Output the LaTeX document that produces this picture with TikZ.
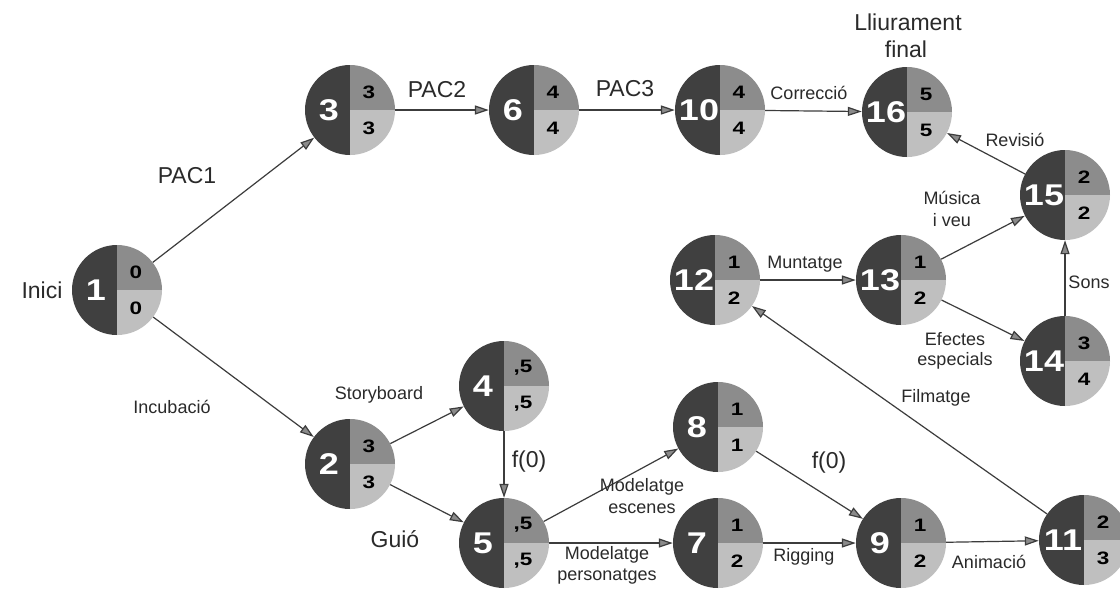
\documentclass[tikz,border=0pt]{standalone}
\usepackage{fontspec}
\usepackage{graphicx}
\setmainfont{Liberation Sans}
\usetikzlibrary{arrows.meta}
\definecolor{dk}{HTML}{404040}
\definecolor{md}{HTML}{8C8C8C}
\definecolor{lt}{HTML}{BFBFBF}
\definecolor{ln}{HTML}{3C3C3C}
\definecolor{tipfill}{HTML}{8A8A8A}
\definecolor{txt}{HTML}{2A2A2A}
\newcommand\evnode[6]{%
  \node[evcirc] (#1) at (#2pt,#3pt) {};
  \fill[dk] (#1.center) -- ++(0pt,45pt) arc[start angle=90,end angle=270,radius=45pt] -- cycle;
  \fill[md] (#1.center) -- ++(45pt,0pt) arc[start angle=0,end angle=90,radius=45pt] -- cycle;
  \fill[lt] (#1.center) -- ++(0pt,-45pt) arc[start angle=270,end angle=360,radius=45pt] -- cycle;
  \node[idtxt] (#1-id) at ([xshift=-21pt]#1.center) {\scalebox{1.2}[1]{#4}};
  \node[numtxt] (#1-a) at ([xshift=19pt,yshift=18pt]#1.center) {\scalebox{1.25}[1]{#5}};
  \node[numtxt] (#1-b) at ([xshift=19pt,yshift=-18pt]#1.center) {\scalebox{1.25}[1]{#6}};
}
\tikzset{
  evcirc/.style={circle,minimum size=90pt,inner sep=0pt,draw=none},
  idtxt/.style={text=white,font=\fontsize{30}{30}\selectfont\bfseries,inner sep=0pt},
  numtxt/.style={text=black,font=\fontsize{18}{18}\selectfont\bfseries,inner sep=0pt},
  arr/.style={draw=ln,line width=1.2pt,-{Triangle[length=14pt,width=9pt,fill=tipfill]}},
  big/.style={text=txt,font=\fontsize{23}{23}\selectfont,inner sep=0pt},
  small/.style={text=txt,font=\fontsize{18}{18}\selectfont,inner sep=0pt,align=center},
}
\begin{document}
\begin{tikzpicture}[x=1pt,y=1pt]
\fill[white] (0,0) rectangle (1120,-590);
\useasboundingbox (0,0) rectangle (1120,-590);

\evnode{n1}{117}{-290}{1}{0}{0}
\evnode{n3}{350}{-110}{3}{3}{3}
\evnode{n6}{534}{-110}{6}{4}{4}
\evnode{n10}{720}{-110}{10}{4}{4}
\evnode{n16}{907}{-112}{16}{5}{5}
\evnode{n15}{1065}{-195}{15}{2}{2}
\evnode{n14}{1065}{-361}{14}{3}{4}
\evnode{n13}{901}{-280}{13}{1}{2}
\evnode{n12}{715}{-280}{12}{1}{2}
\evnode{n2}{350}{-464}{2}{3}{3}
\evnode{n4}{504}{-386}{4}{,5}{,5}
\evnode{n5}{504}{-543}{5}{,5}{,5}
\evnode{n8}{718}{-427}{8}{1}{1}
\evnode{n7}{718}{-543}{7}{1}{2}
\evnode{n9}{901}{-543}{9}{1}{2}
\evnode{n11}{1084}{-540}{11}{2}{3}

\draw[arr] (n1) -- (n3);
\draw[arr] (n1) -- (n2);
\draw[arr] (n3) -- (n6);
\draw[arr] (n6) -- (n10);
\draw[arr] (n10) -- (n16);
\draw[arr] (n15) -- (n16);
\draw[arr] (n13) -- (n15);
\draw[arr] (n12) -- (n13);
\draw[arr] (n13) -- (n14);
\draw[arr] (n14) -- (n15);
\draw[arr] (n11) -- (n12);
\draw[arr] (n2) -- (n4);
\draw[arr] (n2) -- (n5);
\draw[arr] (n4) -- (n5);
\draw[arr] (n5) -- (n8);
\draw[arr] (n5) -- (n7);
\draw[arr] (n8) -- (n9);
\draw[arr] (n7) -- (n9);
\draw[arr] (n9) -- (n11);

\node[big] (lInici) at (42,-290) {Inici};
\node[big] (lLl) at (908,-22) {Lliurament};
\node[big] (lfinal) at (906,-49) {final};
\node[big] (lPAC1) at (187,-176) {PAC1};
\node[big] (lPAC2) at (437,-90) {PAC2};
\node[big] (lPAC3) at (625,-89) {PAC3};
\node[big] (lf1) at (529,-462) {f(0)};
\node[big] (lf2) at (829,-463) {f(0)};
\node[big] (lGuio) at (395,-539) {Guió};
\node[small] (lInc) at (172,-407) {Incubació};
\node[small] (lCor) at (809,-93) {Correcció};
\node[small] (lRev) at (1015,-140) {Revisió};
\node[small] (lMus) at (952,-198) {Música};
\node[small] (lVeu) at (952,-220) {i veu};
\node[small] (lMun) at (805,-264) {Muntatge};
\node[small] (lSons) at (1089,-282) {Sons};
\node[small] (lEf) at (955,-339) {Efectes};
\node[small] (lEsp) at (955,-361) {especials};
\node[small] (lFil) at (936,-398) {Filmatge};
\node[small] (lSto) at (379,-395) {Storyboard};
\node[small] (lMe1) at (642,-487) {Modelatge};
\node[small] (lMe2) at (642,-509) {escenes};
\node[small] (lMp1) at (607,-555) {Modelatge};
\node[small] (lMp2) at (607,-577) {personatges};
\node[small] (lRig) at (804,-557) {Rigging};
\node[small] (lAni) at (989,-562) {Animació};
\end{tikzpicture}
\end{document}
